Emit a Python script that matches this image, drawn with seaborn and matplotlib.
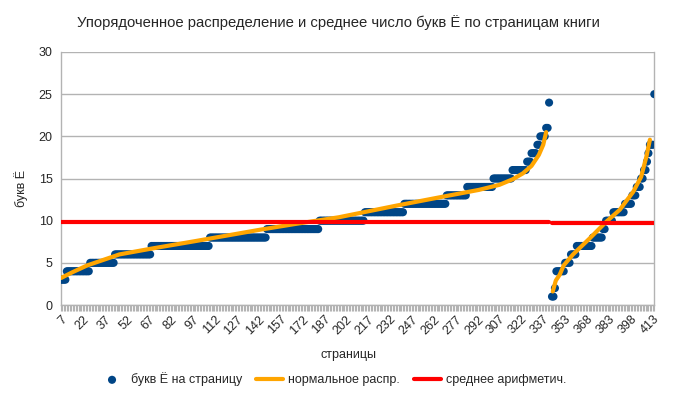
import numpy as np
import pandas as pd
import matplotlib
matplotlib.use("Agg")
import matplotlib.pyplot as plt
import seaborn as sns

# Letters Ё per page, sorted: the value and how many pages have it
part1_values = [3, 4, 5, 6, 7, 8, 9, 10, 11, 12, 13, 14, 15, 16, 17, 18, 19, 20, 21, 24]
part1_pages = [4, 16, 17, 25, 40, 39, 36, 31, 27, 29, 14, 18, 13, 10, 3, 4, 2, 4, 2, 1]
part2_values = [1, 2, 4, 5, 6, 7, 8, 9, 10, 11, 12, 13, 14, 15, 16, 17, 18, 19, 25]
part2_pages = [2, 1, 6, 4, 4, 11, 7, 2, 5, 8, 5, 3, 3, 2, 2, 1, 1, 3, 1]

# Normal distribution curve (row index, value)
norm1_idx = [0, 8, 18, 40, 64, 91, 114, 137, 160, 190, 230, 263, 286, 300, 309, 316, 322, 327, 330, 332]
norm1_val = [3.2, 3.9, 4.7, 6.0, 6.75, 7.55, 8.25, 8.95, 9.6, 10.4, 11.8, 12.9, 13.65, 14.25, 14.9, 15.6, 16.5, 17.8, 19.0, 20.5]
norm2_idx = [336.5, 338.6, 341.3, 344, 350.4, 361.8, 373.3, 382.4, 388, 391.5, 397, 400.6, 403]
norm2_val = [1.6, 2.9, 3.6, 4.7, 6.0, 7.9, 9.9, 11.3, 12.6, 13.4, 15.2, 17.6, 19.6]

# Arithmetic means of the two parts
mean1 = 9.85
mean2 = 9.7

tick_pages = [7, 22, 37, 52, 67, 82, 97, 112, 127, 142, 157, 172, 187, 202, 217,
              232, 247, 262, 277, 292, 307, 322, 337, 353, 368, 383, 398, 413]

# Build the tables
vals1 = np.repeat(part1_values, part1_pages)
vals2 = np.repeat(part2_values, part2_pages)
start2 = len(vals1) + 1  # one empty row between parts
dots = pd.DataFrame({
    "idx": np.concatenate([np.arange(len(vals1)), start2 + np.arange(len(vals2))]),
    "count": np.concatenate([vals1, vals2]),
})
last = start2 + len(vals2) - 1
norm1 = pd.DataFrame({"idx": norm1_idx, "val": norm1_val})
norm2 = pd.DataFrame({"idx": norm2_idx, "val": norm2_val})
avg1 = pd.DataFrame({"idx": [0, len(vals1) - 1], "val": [mean1, mean1]})
avg2 = pd.DataFrame({"idx": [start2, last], "val": [mean2, mean2]})

sns.set_style("white")
plt.rcParams["font.family"] = ["Liberation Sans", "DejaVu Sans"]

fig = plt.figure(figsize=(6.73, 3.97), dpi=100)
ax = fig.add_axes([61 / 673, 1 - 305 / 397, (654.3 - 61) / 673, (305 - 52) / 397])

grey = "#b3b3b3"
sns.scatterplot(data=dots, x="idx", y="count", color="#004586", s=34,
                edgecolor="none", linewidth=0, ax=ax, label="букв Ё на страницу", zorder=3)
sns.lineplot(data=norm1, x="idx", y="val", color="#ffa500", lw=3, ax=ax,
             label="нормальное распр.", zorder=4)
sns.lineplot(data=norm2, x="idx", y="val", color="#ffa500", lw=3, ax=ax,
             label="_nolegend_", zorder=4)
sns.lineplot(data=avg1, x="idx", y="val", color="#ff0000", lw=3, ax=ax,
             label="среднее арифметич.", zorder=5)
sns.lineplot(data=avg2, x="idx", y="val", color="#ff0000", lw=3, ax=ax,
             label="_nolegend_", zorder=5)

# Axes
ax.set_xlim(0, last)
ax.set_ylim(0, 30)
ax.set_yticks(range(0, 31, 5))
ax.yaxis.grid(True, color=grey, lw=1)
ax.set_axisbelow(True)
ax.set_xticks(np.arange(0, last, 15))
ax.set_xticklabels(tick_pages, rotation=45, ha="right", rotation_mode="anchor", fontsize=9)
ax.set_xticks(np.arange(0, last + 1), minor=True)
ax.tick_params(axis="x", which="both", length=4, width=0.8, color=grey, pad=2, bottom=True)
ax.tick_params(axis="y", length=0, labelsize=9, pad=6)
for side in ["left", "bottom", "right"]:
    ax.spines[side].set_color(grey)
    ax.spines[side].set_linewidth(1)
ax.spines["top"].set_visible(False)

ax.set_xlabel("страницы", fontsize=9)
ax.xaxis.set_label_coords(0.485, -0.175)
ax.set_ylabel("букв Ё", fontsize=9)
ax.yaxis.set_label_coords(-0.056, 0.46)

fig.suptitle("Упорядоченное распределение и среднее число букв Ё по страницам книги",
             fontsize=10.7, x=0.503, y=0.962)

handles, labels = ax.get_legend_handles_labels()
ax.get_legend().remove()
fig.legend(handles, labels, loc="center", bbox_to_anchor=(0.494, 0.045), ncol=3,
           frameon=False, fontsize=9, handlelength=2.2, handletextpad=0.4,
           columnspacing=1.1)

plt.savefig("out.png", dpi=100)
